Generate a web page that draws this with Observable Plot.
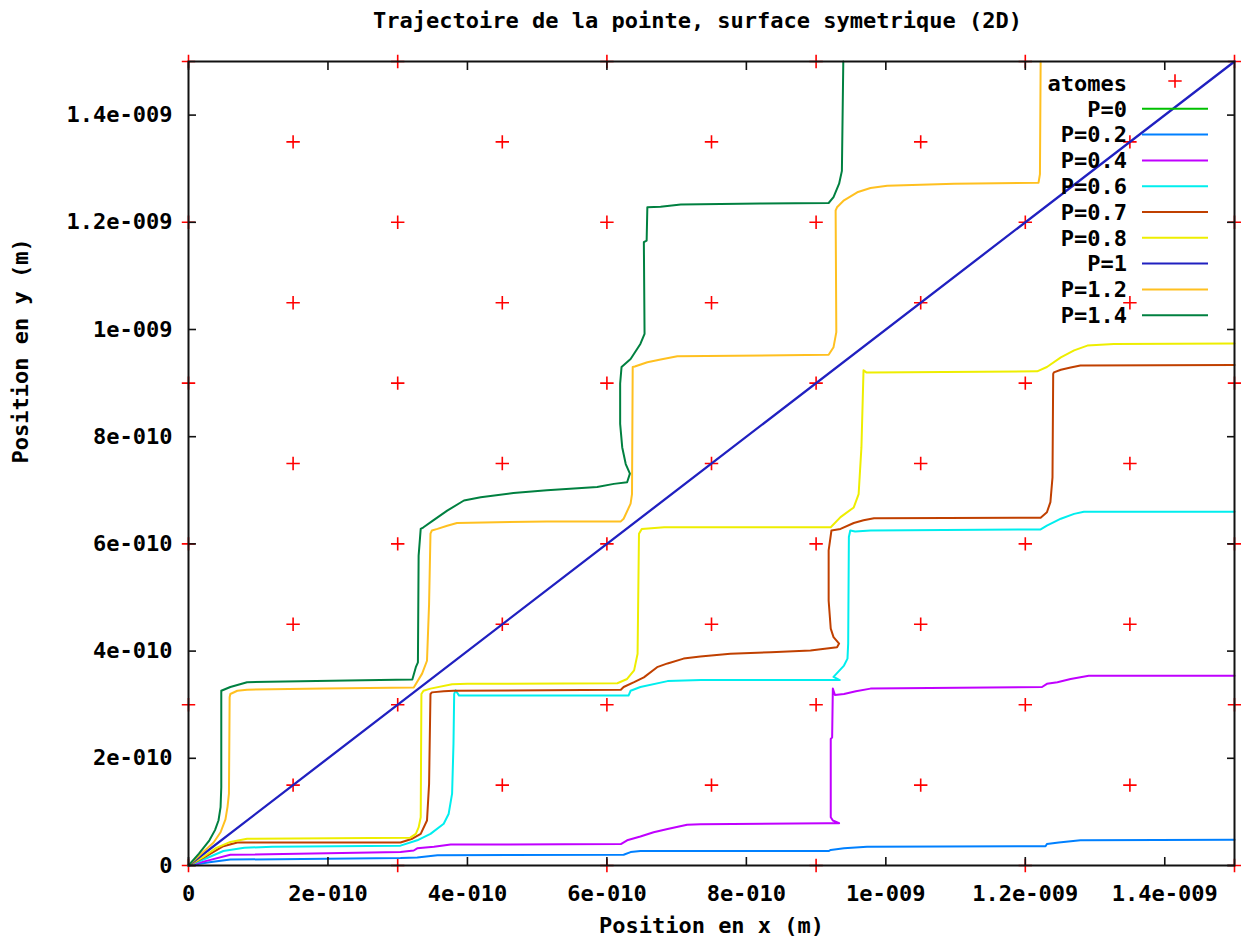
<!DOCTYPE html>
<html><head><meta charset="utf-8">
<script src="https://cdn.jsdelivr.net/npm/d3@7"></script>
<script src="https://cdn.jsdelivr.net/npm/@observablehq/plot@0.6"></script>
<style>body{margin:0;background:#fff} svg{display:block}</style>
</head><body><div id="chart"></div><script>
// all positions are in units of 1e-10 m
const UNIT = 1e-10;

const titleText = "Trajectoire de la pointe, surface symetrique (2D)";
const xLabel = "Position en x (m)";
const yLabel = "Position en y (m)";

const tickUnits = [0, 2, 4, 6, 8, 10, 12, 14];
const tickLabels = ["0", "2e-010", "4e-010", "6e-010", "8e-010", "1e-009", "1.2e-009", "1.4e-009"];

// atom lattice
const atomCornerPos = [0, 3, 6, 9, 12, 15];
const atomCenterPos = [1.5, 4.5, 7.5, 10.5, 13.5];

const p00 = [[0,0],[15,0]];
const p02 = [[0,0],[0.3,0.06],[0.6,0.11],[3.04,0.14],[3.28,0.15],[3.57,0.19],[6.24,0.2],[6.34,0.25],[6.48,0.27],[9.18,0.27],[9.21,0.29],[9.4,0.32],[9.73,0.35],[12.29,0.36],[12.31,0.4],[12.48,0.43],[12.79,0.47],[15,0.48]];
const p04 = [[0,0],[0.3,0.1],[0.6,0.2],[3.04,0.25],[3.23,0.28],[3.28,0.32],[3.52,0.35],[3.76,0.39],[6.2,0.4],[6.29,0.47],[6.48,0.54],[6.67,0.62],[6.87,0.68],[7.15,0.76],[7.34,0.77],[9.16,0.79],[9.33,0.79],[9.24,0.84],[9.21,0.9],[9.21,2.36],[9.23,2.39],[9.24,3.3],[9.27,3.18],[9.4,3.2],[9.57,3.25],[9.78,3.3],[12.24,3.33],[12.31,3.39],[12.46,3.42],[12.65,3.48],[12.91,3.54],[15,3.54]];
const p06 = [[0,0],[0.25,0.13],[0.5,0.27],[0.8,0.33],[1.2,0.35],[3.04,0.37],[3.28,0.47],[3.47,0.59],[3.66,0.78],[3.73,0.96],[3.78,1.34],[3.8,2.27],[3.81,3.2],[3.83,3.27],[3.88,3.17],[6.31,3.17],[6.34,3.26],[6.48,3.33],[6.87,3.44],[7.35,3.46],[9.34,3.46],[9.25,3.52],[9.4,3.73],[9.45,3.86],[9.46,4.14],[9.47,6.13],[9.49,6.25],[9.56,6.23],[9.78,6.25],[12.22,6.27],[12.31,6.34],[12.51,6.47],[12.7,6.56],[12.84,6.6],[15,6.6]];
const p07 = [[0,0],[0.25,0.17],[0.5,0.36],[0.7,0.43],[3.04,0.43],[3.21,0.5],[3.33,0.59],[3.42,0.84],[3.45,1.52],[3.47,3.2],[3.49,3.23],[3.66,3.25],[3.8,3.26],[6.2,3.28],[6.24,3.33],[6.39,3.42],[6.53,3.51],[6.72,3.7],[6.87,3.77],[7.1,3.86],[7.34,3.9],[7.77,3.95],[8.35,3.98],[8.92,4.01],[9.3,4.07],[9.33,4.14],[9.25,4.26],[9.21,4.42],[9.18,4.94],[9.18,5.88],[9.22,6.25],[9.35,6.28],[9.54,6.39],[9.68,6.44],[9.83,6.48],[12.22,6.49],[12.31,6.59],[12.36,6.78],[12.39,7.24],[12.4,9.17],[12.41,9.2],[12.51,9.25],[12.65,9.29],[12.79,9.33],[15,9.34]];
const p08 = [[0,0],[0.2,0.15],[0.4,0.33],[0.6,0.44],[0.84,0.5],[3.18,0.52],[3.26,0.59],[3.3,0.71],[3.33,0.9],[3.34,3.2],[3.37,3.26],[3.47,3.3],[3.78,3.38],[4,3.39],[6.15,3.4],[6.29,3.48],[6.39,3.64],[6.44,3.95],[6.46,6.19],[6.5,6.28],[6.82,6.31],[9.21,6.31],[9.35,6.5],[9.54,6.68],[9.61,6.93],[9.65,7.8],[9.68,9.24],[9.72,9.2],[9.78,9.2],[12.17,9.22],[12.31,9.3],[12.51,9.48],[12.7,9.61],[12.89,9.7],[13.27,9.73],[15,9.74]];
const p10 = [[0,0],[15,15]];
const p12 = [[0,0],[0.2,0.24],[0.36,0.43],[0.46,0.62],[0.53,0.86],[0.56,1.1],[0.58,1.34],[0.59,3.14],[0.6,3.2],[0.7,3.26],[0.84,3.28],[1.94,3.3],[3.23,3.32],[3.35,3.58],[3.42,3.82],[3.45,4.88],[3.47,6.19],[3.49,6.25],[3.57,6.28],[3.71,6.34],[3.85,6.39],[5.14,6.42],[6.2,6.42],[6.24,6.47],[6.34,6.75],[6.36,6.93],[6.37,9.3],[6.4,9.31],[6.58,9.39],[6.77,9.44],[7.01,9.5],[9.18,9.53],[9.25,9.67],[9.29,9.95],[9.28,12.22],[9.3,12.28],[9.4,12.41],[9.59,12.56],[9.78,12.64],[10.02,12.68],[10.98,12.72],[12.19,12.74],[12.21,12.9],[12.22,15]];
const p14 = [[0,0],[0.15,0.22],[0.3,0.47],[0.38,0.66],[0.43,0.84],[0.46,1.09],[0.47,1.46],[0.47,3.26],[0.6,3.33],[0.84,3.42],[2.28,3.45],[3.21,3.47],[3.26,3.7],[3.29,3.79],[3.3,5.78],[3.33,6.28],[3.37,6.31],[3.51,6.44],[3.71,6.62],[3.95,6.81],[4.19,6.87],[4.66,6.95],[5.14,7.0],[5.86,7.06],[6.1,7.12],[6.29,7.15],[6.33,7.31],[6.27,7.49],[6.22,7.8],[6.19,8.24],[6.19,8.99],[6.21,9.3],[6.34,9.45],[6.48,9.73],[6.54,9.92],[6.53,11.63],[6.57,11.66],[6.58,12.28],[6.77,12.29],[7.06,12.33],[8.2,12.35],[9.18,12.36],[9.25,12.47],[9.33,12.72],[9.37,12.96],[9.39,15]];

const seriesNames = ["P=0","P=0.2","P=0.4","P=0.6","P=0.7","P=0.8","P=1","P=1.2","P=1.4"];
const seriesColors = ["#00c000","#0080ff","#c000ff","#00eeee","#c04000","#eeee00","#2020c0","#ffc020","#008040"];
const seriesData = [p00,p02,p04,p06,p07,p08,p10,p12,p14];
const atomName = "atomes";
const atomColor = "#ff0000";

const atoms = [
  ...atomCornerPos.flatMap(x => atomCornerPos.map(y => ({x: x*UNIT, y: y*UNIT}))),
  ...atomCenterPos.flatMap(x => atomCenterPos.map(y => ({x: x*UNIT, y: y*UNIT})))
];
const ticks = tickUnits.map(v => v*UNIT);
const fmt = d => tickLabels[tickUnits.indexOf(Math.round(d/UNIT))];
const none = () => "";

const lineMarks = seriesData.map((pts, i) =>
  Plot.line(pts, {x: d => d[0]*UNIT, y: d => d[1]*UNIT, stroke: seriesColors[i],
    strokeWidth: i === 0 ? 1.2 : (i === 6 ? 2.3 : 2)}));

const axisStyle = {stroke: "#111", strokeWidth: 1.6, label: null, tickSize: -8};

const plot = Plot.plot({
  width: 1241, height: 940,
  marginLeft: 188, marginRight: 7, marginTop: 61, marginBottom: 75,
  style: {fontFamily: "'DejaVu Sans Mono', monospace", fontSize: "22px", fontWeight: "bold", background: "#fff", color: "#000"},
  x: {domain: [0, 1.5e-9], axis: null},
  y: {domain: [0, 1.5e-9], axis: null},
  marks: [
    Plot.dot(atoms, {x: "x", y: "y", symbol: "plus", r: 4.4, stroke: atomColor, strokeWidth: 1.6}),
    ...lineMarks,
    Plot.frame({stroke: "#111", strokeWidth: 2}),
    Plot.axisX({...axisStyle, anchor: "bottom", ticks, tickFormat: fmt, tickPadding: 28}),
    Plot.axisX({...axisStyle, anchor: "top", ticks, tickFormat: none}),
    Plot.axisY({...axisStyle, anchor: "left", ticks, tickFormat: fmt, tickPadding: 24}),
    Plot.axisY({...axisStyle, anchor: "right", ticks, tickFormat: none}),
    Plot.text([titleText], {frameAnchor: "top", dx: -14, dy: -41, lineAnchor: "middle"}),
    Plot.text([xLabel], {frameAnchor: "bottom", dy: 60, lineAnchor: "middle"}),
    Plot.text([yLabel], {frameAnchor: "left", dx: -168, rotate: -90})
  ]
});
document.getElementById("chart").appendChild(plot);

// legend (key) inside the plot, top right, gnuplot style
const svg = d3.select(plot);
const key = svg.append("g")
  .attr("font-family", "'DejaVu Sans Mono', monospace")
  .attr("font-size", 22).attr("font-weight", "bold");
const entries = [{name: atomName, color: atomColor, cross: true},
  ...seriesNames.map((n, i) => ({name: n, color: seriesColors[i]}))];
entries.forEach((e, i) => {
  const y = 83 + i * 25.8;
  key.append("text").attr("x", 1127).attr("y", y).attr("text-anchor", "end")
    .attr("dy", "0.35em").attr("fill", "#000").text(e.name);
  if (e.cross) {
    key.append("path").attr("d", `M${1175-6.7},${y-2}h13.4M1175,${y-2-6.7}v13.4`)
      .attr("stroke", e.color).attr("stroke-width", 1.6).attr("fill", "none");
  } else {
    key.append("line").attr("x1", 1142).attr("x2", 1208).attr("y1", y).attr("y2", y)
      .attr("stroke", e.color).attr("stroke-width", 2);
  }
});
</script></body></html>
